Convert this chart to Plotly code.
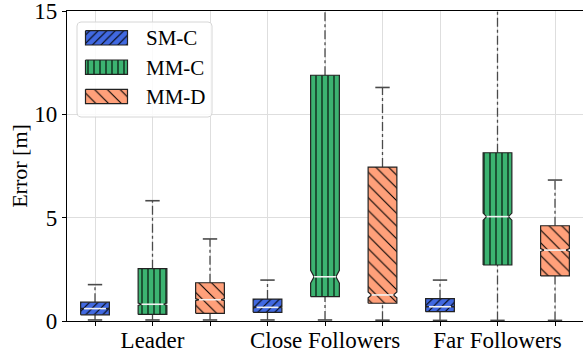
import numpy as np
import plotly.graph_objects as go

# ---- data -------------------------------------------------------------
categories = ["Leader", "Close Followers", "Far Followers"]
series = ["SM-C", "MM-C", "MM-D"]

# box statistics per series, one value per category
q1 = {
    "SM-C": [0.30, 0.42, 0.45],
    "MM-C": [0.32, 1.18, 2.71],
    "MM-D": [0.37, 0.86, 2.18],
}
median = {
    "SM-C": [0.60, 0.66, 0.69],
    "MM-C": [0.81, 2.14, 5.05],
    "MM-D": [1.03, 1.26, 3.43],
}
q3 = {
    "SM-C": [0.91, 1.06, 1.08],
    "MM-C": [2.53, 11.89, 8.14],
    "MM-D": [1.85, 7.45, 4.61],
}
whisker_lo = {
    "SM-C": [0.05, 0.05, 0.03],
    "MM-C": [0.05, 0.05, 0.03],
    "MM-D": [0.05, 0.04, 0.03],
}
whisker_hi = {
    "SM-C": [1.76, 1.98, 1.98],
    "MM-C": [5.82, 17.0, 16.0],
    "MM-D": [3.97, 11.3, 6.82],
}
# confidence interval of the median (notch extent)
ci_lo = {
    "SM-C": [0.58, 0.64, 0.67],
    "MM-C": [0.75, 1.83, 4.88],
    "MM-D": [0.98, 1.12, 3.36],
}
ci_hi = {
    "SM-C": [0.62, 0.68, 0.71],
    "MM-C": [0.87, 2.45, 5.22],
    "MM-D": [1.08, 1.40, 3.50],
}
y_ticks = [0, 5, 10, 15]

# ---- style ------------------------------------------------------------
colors = {"SM-C": "#4169E1", "MM-C": "#3CB371", "MM-D": "#FFA07A"}
hatches = {
    "SM-C": dict(shape="/", size=6, solidity=0.18),
    "MM-C": dict(shape="|", size=6, solidity=0.18),
    "MM-D": dict(shape="\\", size=9, solidity=0.12),
}
FONT = "Liberation Serif"
BOX_W = 0.5
NOTCH_INSET = 0.12 * BOX_W
CAP_W = 0.25
WHISKER_COLOR = "#4a4a4a"

fig = go.Figure()

n_series = len(series)
positions = []
for gi, cat in enumerate(categories):
    for si, name in enumerate(series):
        pos = gi * n_series + si + 1
        positions.append(pos)
        a, m, b = q1[name][gi], median[name][gi], q3[name][gi]
        lo, hi = whisker_lo[name][gi], whisker_hi[name][gi]
        cl, ch = ci_lo[name][gi], ci_hi[name][gi]
        left, right = pos - BOX_W / 2, pos + BOX_W / 2

        # whiskers (dash-dot) below and above the box
        for y0, y1 in ((lo, a), (b, hi)):
            fig.add_trace(go.Scatter(
                x=[pos, pos], y=[y0, y1], mode="lines",
                line=dict(color=WHISKER_COLOR, width=1.3, dash="dashdot"),
                showlegend=False, hoverinfo="skip"))
        # caps
        for yc in (lo, hi):
            fig.add_trace(go.Scatter(
                x=[pos - CAP_W / 2, pos + CAP_W / 2], y=[yc, yc], mode="lines",
                line=dict(color=WHISKER_COLOR, width=1.6),
                showlegend=False, hoverinfo="skip"))

        # notched box outline
        bx = [left, right, right, right - NOTCH_INSET, right, right,
              left, left, left + NOTCH_INSET, left, left]
        by = [a, a, cl, m, ch, b, b, ch, m, cl, a]
        fig.add_trace(go.Scatter(
            x=bx, y=by, mode="lines", fill="toself",
            fillcolor=colors[name],
            fillpattern=dict(**hatches[name], fgcolor="black",
                             bgcolor=colors[name], fgopacity=1),
            line=dict(color="#222222", width=1.2),
            name=name, showlegend=False, hoverinfo="skip"))

        # median line
        fig.add_trace(go.Scatter(
            x=[left + NOTCH_INSET, right - NOTCH_INSET], y=[m, m], mode="lines",
            line=dict(color="#f2f2f2", width=1.6),
            showlegend=False, hoverinfo="skip"))

# ---- legend drawn on a pixel-scaled overlay axis ------------------------
PLOT_W, PLOT_H = 516, 310


def rounded_rect(x0, y0, x1, y1, r, n=6):
    xs, ys = [], []
    corners = [(x1 - r, y0 + r, -90, 0), (x1 - r, y1 - r, 0, 90),
               (x0 + r, y1 - r, 90, 180), (x0 + r, y0 + r, 180, 270)]
    for cx, cy, t0, t1 in corners:
        t = np.radians(np.linspace(t0, t1, n))
        xs += list(cx + r * np.cos(t))
        ys += list(cy + r * np.sin(t))
    xs.append(xs[0])
    ys.append(ys[0])
    return xs, ys


lx, ly = rounded_rect(10, 11, 145, 106, 4)
fig.add_trace(go.Scatter(
    x=lx, y=ly, xaxis="x2", yaxis="y2", mode="lines", fill="toself",
    fillcolor="rgba(255,255,255,0.85)",
    line=dict(color="#d6d6d6", width=1),
    showlegend=False, hoverinfo="skip"))

for si, name in enumerate(series):
    top = 19.7 + si * 29.3
    sx = [18.5, 60.5, 60.5, 18.5, 18.5]
    sy = [top, top, top + 14.3, top + 14.3, top]
    fig.add_trace(go.Scatter(
        x=sx, y=sy, xaxis="x2", yaxis="y2", mode="lines", fill="toself",
        fillcolor=colors[name],
        fillpattern=dict(**hatches[name], fgcolor="black",
                         bgcolor=colors[name], fgopacity=1),
        line=dict(color="#222222", width=1.2),
        showlegend=False, hoverinfo="skip"))
    fig.add_annotation(
        x=76.5, y=top + 7.5, xref="x2", yref="y2", text=name,
        showarrow=False, xanchor="left", yanchor="middle",
        font=dict(family=FONT, size=21, color="black"))

# ---- axes & layout ------------------------------------------------------
tick_text = []
for gi, cat in enumerate(categories):
    for si in range(n_series):
        tick_text.append(cat if si == n_series // 2 else "")

fig.update_layout(
    width=583, height=353,
    margin=dict(l=67, r=0, t=11, b=32, autoexpand=False),
    paper_bgcolor="white", plot_bgcolor="white",
    showlegend=False,
    font=dict(family=FONT, color="black"),
    xaxis=dict(
        range=[0.513, 9.487], tickmode="array", tickvals=positions,
        ticktext=tick_text, tickfont=dict(family=FONT, size=23),
        showgrid=True, gridcolor="#dedede", gridwidth=1,
        showline=True, linecolor="black", linewidth=1.4, mirror=True,
        ticks="outside", ticklen=4, tickcolor="black", tickwidth=1,
        zeroline=False, fixedrange=True, ticklabeloverflow="allow",
        ticklabelstandoff=-6, automargin=False),
    yaxis=dict(
        range=[0, 15], tickmode="array", tickvals=y_ticks,
        tickfont=dict(family=FONT, size=23),
        showgrid=True, gridcolor="#dedede", gridwidth=1,
        showline=True, linecolor="black", linewidth=1.4, mirror=False,
        ticks="outside", ticklen=4, tickcolor="black", tickwidth=1,
        zeroline=False, fixedrange=True, ticklabeloverflow="allow",
        automargin=False,
        title=dict(text="Error [m]", font=dict(family=FONT, size=22),
                   standoff=0)),
    xaxis2=dict(overlaying="x", anchor="y2", range=[0, PLOT_W],
                visible=False, fixedrange=True),
    yaxis2=dict(overlaying="y", anchor="x2", range=[PLOT_H, 0],
                visible=False, fixedrange=True),
)

fig.write_html("out.html")
